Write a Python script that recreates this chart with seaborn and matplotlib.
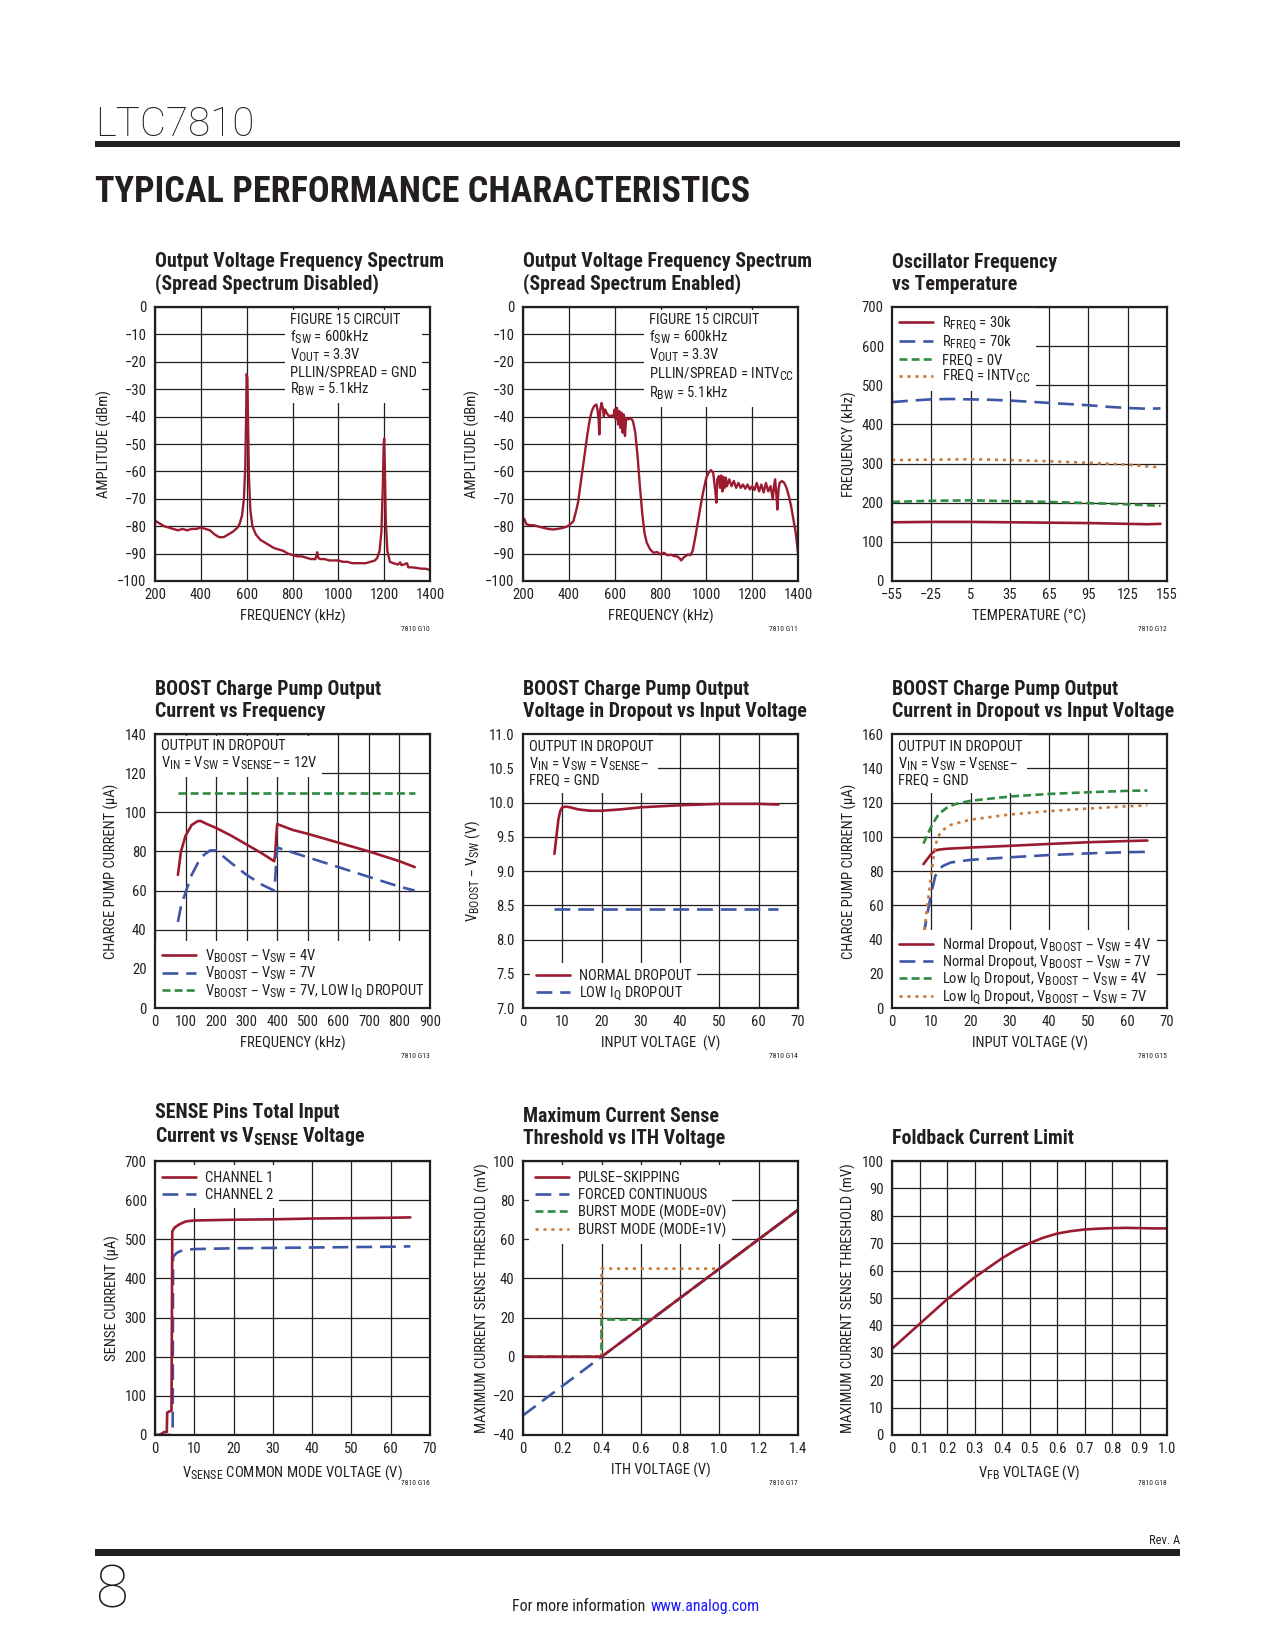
import matplotlib
matplotlib.use('Agg')
import matplotlib.pyplot as plt
import matplotlib._mathtext as mathtext_mod
import seaborn as sns
from matplotlib import font_manager
from matplotlib.patches import Rectangle

# ---------------- data ----------------
# G10: output spectrum, spread spectrum disabled
g10_freq = [200, 220, 240, 260, 280, 300, 320, 340, 360, 380,
            400, 420, 440, 460, 480, 500, 520, 540, 560, 570,
            580, 588, 594, 598, 600, 603, 606, 610, 616, 625,
            640, 660, 680, 700, 720, 740, 760, 780, 800, 820,
            840, 860, 880, 900, 908, 912, 920, 940, 960, 980,
            1000, 1020, 1040, 1060, 1080, 1100, 1120, 1140, 1160, 1170,
            1180, 1188, 1194, 1198, 1200, 1203, 1207, 1214, 1225, 1240,
            1260, 1270, 1275, 1285, 1300, 1305, 1320, 1340, 1360, 1380,
            1400]
g10_amp = [-78, -79, -80, -80.5, -81, -81.5, -81, -81.5, -81, -81,
           -80.5, -81, -81.5, -83, -84, -84, -83, -82, -80.5, -79,
           -76, -70, -58, -38, -24.5, -26, -42, -62, -74, -80,
           -83, -85, -86, -87, -88, -88.5, -89, -90, -90.5, -91,
           -91, -91.5, -92, -92, -89.5, -91.5, -92, -92, -92.5, -92.5,
           -92.5, -93, -93, -93.5, -93.5, -93.5, -93.5, -93, -92.5, -91.5,
           -89, -82, -66, -50, -48, -58, -78, -89, -93, -93.5,
           -94, -93.2, -94.2, -94, -93.5, -95, -95, -95.2, -95.5, -95.5,
           -96]

# G11: output spectrum, spread spectrum enabled
g11_freq = [200, 205, 215, 230, 250, 270, 290, 310, 330, 350,
            370, 390, 400, 410, 420, 430, 440, 450, 460, 470,
            480, 490, 500, 510, 520, 525, 530, 533, 537, 543,
            548, 553, 558, 565, 575, 585, 595, 600, 605, 610,
            615, 620, 625, 630, 635, 640, 645, 650, 660, 670,
            680, 690, 700, 710, 720, 730, 740, 755, 770, 785,
            800, 815, 830, 845, 860, 875, 885, 890, 900, 910,
            920, 930, 940, 950, 960, 970, 980, 990, 1000, 1010,
            1020, 1030, 1035, 1040, 1044, 1048, 1055, 1060, 1065, 1070,
            1075, 1080, 1085, 1090, 1100, 1110, 1120, 1130, 1140, 1150,
            1160, 1170, 1180, 1190, 1200, 1210, 1220, 1230, 1240, 1250,
            1260, 1270, 1280, 1285, 1290, 1295, 1300, 1305, 1310, 1315,
            1320, 1330, 1340, 1350, 1360, 1370, 1380, 1390, 1400]
g11_amp = [-77.5, -77.3, -79.3, -79.6, -79.7, -80.2, -80.6, -81, -81.2, -81,
           -80.7, -80.2, -79.7, -79, -78.1, -75, -71.4, -65.4, -59.3, -53.2,
           -47.1, -41.7, -38, -36.2, -35.6, -37.4, -41, -46.5, -37.4, -35,
           -36.8, -39.9, -37.4, -38.6, -39.9, -39.6, -39.9, -37.4, -41, -36.8,
           -42.9, -38, -44.1, -38.6, -45.9, -39.2, -47.1, -40.5, -41, -40.5,
           -41.7, -45.9, -54.4, -65.4, -75, -82.4, -86, -88.5, -89.7, -89.4,
           -90.3, -89.7, -90.6, -90.4, -90.9, -91.1, -91.9, -92.5, -91.5, -90.9,
           -90.3, -90.6, -89.1, -84.8, -80, -75, -70.2, -66, -62.3, -60.5,
           -59.5, -60.5, -64.2, -67.8, -71.4, -62.9, -61.7, -66, -61.5, -67.3,
           -62, -66, -62.3, -65.4, -62.9, -65.4, -63.5, -66, -64.2, -66,
           -64.8, -66.3, -64.8, -66.6, -65.4, -66.8, -64.2, -67.3, -64.8, -67.7,
           -64.2, -67.3, -65.4, -67.8, -70.2, -65.4, -62.9, -67.8, -73.9, -66.6,
           -64.2, -63.5, -64.2, -66, -69, -72.7, -77.5, -82.4, -89.7]

# G12: oscillator frequency vs temperature
g12_temp_a = [-55, -25, 5, 35, 65, 95, 125, 140, 150]
g12_r30k = [150, 151, 151, 150, 149, 148, 146, 145, 146]
g12_temp_b = [-55, -40, -25, -10, 5, 20, 35, 50, 65, 80, 95, 110, 125, 140, 150]
g12_r70k = [457, 461, 464, 465, 464, 463, 461, 458, 455, 452, 449, 445, 442, 440, 441]
g12_temp_c = [-55, -25, 5, 35, 65, 95, 125, 150]
g12_f0v = [202, 205, 206, 204, 202, 199, 196, 192]
g12_fintvcc = [309, 310, 311, 309, 306, 302, 297, 290]

# G13: BOOST charge pump current vs frequency
g13_f4 = [75, 85, 100, 120, 140, 150, 170, 200, 250, 300, 350, 390, 393, 397, 400, 450, 500, 600, 700, 800, 850]
g13_i4 = [68, 80, 88, 93.5, 95.5, 95.5, 94, 92, 88, 83.5, 79, 75, 78, 88, 94, 91, 89, 84.5, 80, 75, 72]
g13_f7 = [75, 85, 100, 120, 150, 180, 200, 250, 300, 350, 390, 393, 397, 400, 500, 600, 700, 800, 850]
g13_i7 = [44, 52, 59, 68, 77, 80.5, 80.5, 74, 68, 63, 60, 65, 75, 82, 77, 72, 67, 62, 60]
g13_flq = [75, 850]
g13_ilq = [110, 110]

# G14: BOOST voltage in dropout vs input voltage
g14_vin_n = [8, 8.5, 9, 9.5, 10, 11, 12, 14, 17, 20, 25, 30, 40, 50, 60, 65]
g14_vb_n = [9.25, 9.5, 9.75, 9.88, 9.93, 9.94, 9.93, 9.9, 9.88, 9.88, 9.9, 9.93, 9.96, 9.98, 9.98, 9.97]
g14_vin_l = [8, 65]
g14_vb_l = [8.45, 8.45]

# G15: BOOST current in dropout vs input voltage
g15_vin_a = [8, 9, 10, 11, 12, 14, 20, 30, 40, 50, 60, 65]
g15_norm4 = [84, 87, 90, 92, 92.5, 93, 93.7, 94.7, 95.8, 96.8, 97.5, 97.8]
g15_vin_b = [8, 9, 10, 11, 12, 13, 15, 20, 30, 40, 50, 60, 65]
g15_norm7 = [42, 55, 67, 77, 81, 83, 85, 86.5, 88, 89.3, 90.3, 91, 91.2]
g15_vin_c = [8, 9, 10, 11, 12, 14, 16, 20, 30, 40, 50, 60, 65]
g15_lowq4 = [96, 101, 106, 110, 113.5, 117, 119, 121, 123.5, 125, 126, 126.8, 127]
g15_vin_d = [8, 9, 10, 11, 12, 13, 15, 20, 30, 40, 50, 60, 65]
g15_lowq7 = [41, 60, 78, 95, 101, 104, 107, 110, 113, 115, 116.5, 117.8, 118.3]

# G16: SENSE pins input current vs common mode voltage
g16_v1 = [0, 1, 1.8, 2.2, 3.0, 3.1, 3.6, 4.2, 4.4, 5, 6, 7, 8, 10, 20, 30, 40, 50, 60, 65]
g16_ch1 = [0, 0, 4, 7, 8, 57, 60, 62, 520, 530, 537, 542, 546, 548, 550, 551, 553, 554, 555, 556]
g16_v2 = [0, 3.5, 4.3, 4.5, 4.6, 5.5, 6.5, 8, 10, 20, 30, 40, 50, 60, 65]
g16_ch2 = [0, 0, 2, 10, 455, 465, 470, 473, 475, 477, 478, 479, 480, 481, 482]

# G17: max current sense threshold vs ITH
g17_ith_ps = [0, 0.4, 1.4]
g17_ps = [0, 0, 75]
g17_ith_fc = [0, 0.4, 1.4]
g17_fc = [-30, 0, 75]
g17_ith_b0 = [0, 0.4, 0.4, 0.653, 1.4]
g17_b0 = [0, 0, 19, 19, 75]
g17_ith_b1 = [0, 0.4, 0.4, 1.0, 1.4]
g17_b1 = [0, 0, 45, 45, 75]

# G18: foldback current limit
g18_vfb = [0, 0.05, 0.1, 0.15, 0.2, 0.25, 0.3, 0.35, 0.4, 0.45, 0.5,
           0.55, 0.6, 0.65, 0.7, 0.75, 0.8, 0.85, 0.9, 0.95, 1.0]
g18_th = [31.5, 36, 40.5, 45, 49.5, 53.5, 57.5, 61, 64.5, 67.5, 70,
          72, 73.5, 74.4, 75, 75.3, 75.5, 75.6, 75.5, 75.4, 75.4]

RED = '#9b1b30'
BLUE = '#3d56a6'
GREEN = '#2f8a42'
ORANGE = '#c87a3a'
INK = '#231f20'

# ---------------- style ----------------
sns.set_style('white')
ttf = font_manager.fontManager.ttflist
fam_names = {f.name for f in ttf}
COND, STRETCH = None, 'normal'
for cand in ['Liberation Sans Narrow', 'Roboto Condensed', 'Noto Sans Condensed',
             'Open Sans Condensed', 'DejaVu Sans Condensed']:
    if cand in fam_names:
        COND = cand
        break
if COND is None:
    for cand in ['Noto Sans', 'Open Sans', 'DejaVu Sans', 'Roboto']:
        if any(f.name == cand and f.stretch == 'condensed' for f in ttf):
            COND, STRETCH = cand, 'condensed'
            break
if COND is None:
    COND = 'Roboto' if 'Roboto' in fam_names else 'DejaVu Sans'

plt.rcParams['font.family'] = [COND, 'DejaVu Sans']
plt.rcParams['font.stretch'] = STRETCH
plt.rcParams['mathtext.default'] = 'regular'
plt.rcParams['text.color'] = INK
plt.rcParams['axes.labelcolor'] = INK
plt.rcParams['xtick.color'] = INK
plt.rcParams['ytick.color'] = INK
# datasheet subscripts are only a little smaller than the body text
mathtext_mod.SHRINK_FACTOR = 0.82

W, H = 1275, 1650
AW, AH = 275, 274
fig = plt.figure(figsize=(W / 100, H / 100), dpi=100)

LONG = (0, (6, 3))
DASH = (0, (3, 1.6))
DOT = (0, (1.2, 1.8))


def make_ax(left, top):
    return fig.add_axes([left / W, 1 - (top + AH) / H, AW / W, AH / H])


def style_ax(ax, xlim, ylim, xticks, yticks, xlabel, ylabel, ylab_dx,
             xticklabels=None, yticklabels=None):
    ax.set_xlim(xlim)
    ax.set_ylim(ylim)
    ax.set_xticks(xticks)
    ax.set_yticks(yticks)
    if xticklabels is not None:
        ax.set_xticklabels(xticklabels)
    if yticklabels is not None:
        ax.set_yticklabels(yticklabels)
    ax.grid(True, color=INK, lw=0.9)
    ax.set_axisbelow(True)
    ax.tick_params(axis='x', length=0, labelsize=10.5, pad=5)
    ax.tick_params(axis='y', length=0, labelsize=10.5, pad=6)
    for s in ax.spines.values():
        s.set_visible(True)
        s.set_linewidth(1.6)
        s.set_color(INK)
        s.set_zorder(10)
    ax.set_xlabel(xlabel, fontsize=10.5)
    ax.set_ylabel(ylabel, fontsize=10.5)
    ax.yaxis.set_label_coords(ylab_dx / AW, 0.5)
    ax.xaxis.set_label_coords(0.5, -28 / AH)


def draw(ax, x, y, color, ls='-', label=None, lw=1.9):
    sns.lineplot(x=x, y=y, ax=ax, color=color, linestyle=ls, linewidth=lw,
                 label=label, sort=False, estimator=None, errorbar=None)


def title(ax, s):
    ax.text(0, 1 + 13 / AH, s, transform=ax.transAxes, ha='left', va='bottom',
            fontsize=14.3, fontweight='bold', linespacing=1.17)


def code(ax, s):
    ax.text(1, -48 / AH, s, transform=ax.transAxes, ha='right', va='center', fontsize=5.5)


def note(ax, xpx, ypx, s):
    ax.text(xpx / AW, 1 - ypx / AH, s, transform=ax.transAxes, ha='left', va='top',
            fontsize=10.5, linespacing=1.1, zorder=4,
            bbox=dict(facecolor='white', edgecolor='none', pad=3.5))


def leg(ax, loc, order, spacing=0.0, anchor=None):
    handles, labels = ax.get_legend_handles_labels()
    hmap = dict(zip(labels, handles))
    kw = {}
    if anchor is not None:
        kw['bbox_to_anchor'] = (anchor[0] / AW, anchor[1] / AH)
    lg = ax.legend([hmap[o] for o in order], order, loc=loc, frameon=True, fancybox=False,
                   framealpha=1, facecolor='white', edgecolor='none', fontsize=10.5,
                   handlelength=2.3, handletextpad=0.6, labelspacing=spacing,
                   borderpad=0.4, borderaxespad=0.1, **kw)
    lg.set_zorder(5)


cols = [155, 523, 892]
rows = [307, 734, 1161]

# ---------- G10 ----------
ax = make_ax(cols[0], rows[0])
draw(ax, g10_freq, g10_amp, RED, lw=1.7)
style_ax(ax, (200, 1400), (-100, 0), range(200, 1401, 200), range(-100, 1, 10),
         'FREQUENCY (kHz)', 'AMPLITUDE (dBm)', -43)
note(ax, 135, 6, 'FIGURE 15 CIRCUIT\n$f_{SW}$ = 600kHz\n$V_{OUT}$ = 3.3V\n'
                 'PLLIN/SPREAD = GND\n$R_{BW}$ = 5.1kHz')
title(ax, 'Output Voltage Frequency Spectrum\n(Spread Spectrum Disabled)')
code(ax, '7810 G10')

# ---------- G11 ----------
ax = make_ax(cols[1], rows[0])
draw(ax, g11_freq, g11_amp, RED, lw=1.7)
style_ax(ax, (200, 1400), (-100, 0), range(200, 1401, 200), range(-100, 1, 10),
         'FREQUENCY (kHz)', 'AMPLITUDE (dBm)', -43)
note(ax, 126, 6, 'FIGURE 15 CIRCUIT\n$f_{SW}$ = 600kHz\n$V_{OUT}$ = 3.3V\n'
                 'PLLIN/SPREAD = $INTV_{CC}$\n$R_{BW}$ = 5.1kHz')
title(ax, 'Output Voltage Frequency Spectrum\n(Spread Spectrum Enabled)')
code(ax, '7810 G11')

# ---------- G12 ----------
ax = make_ax(cols[2], rows[0])
lab12 = ['$R_{FREQ}$ = 30k', '$R_{FREQ}$ = 70k', 'FREQ = 0V', 'FREQ = $INTV_{CC}$']
draw(ax, g12_temp_a, g12_r30k, RED, label=lab12[0])
draw(ax, g12_temp_b, g12_r70k, BLUE, LONG, label=lab12[1])
draw(ax, g12_temp_c, g12_f0v, GREEN, DASH, label=lab12[2])
draw(ax, g12_temp_c, g12_fintvcc, ORANGE, DOT, label=lab12[3])
style_ax(ax, (-55, 155), (0, 700), range(-55, 156, 30), range(0, 701, 100),
         'TEMPERATURE (°C)', 'FREQUENCY (kHz)', -35)
leg(ax, 'upper left', lab12, spacing=0.05)
title(ax, 'Oscillator Frequency\nvs Temperature')
code(ax, '7810 G12')

# ---------- G13 ----------
ax = make_ax(cols[0], rows[1])
lab13 = ['$V_{BOOST}$ – $V_{SW}$ = 4V', '$V_{BOOST}$ – $V_{SW}$ = 7V',
         '$V_{BOOST}$ – $V_{SW}$ = 7V, LOW $I_Q$ DROPOUT']
draw(ax, g13_f4, g13_i4, RED, label=lab13[0])
draw(ax, g13_f7, g13_i7, BLUE, LONG, label=lab13[1])
draw(ax, g13_flq, g13_ilq, GREEN, DASH, label=lab13[2])
style_ax(ax, (0, 900), (0, 140), range(0, 901, 100), range(0, 141, 20),
         'FREQUENCY (kHz)', 'CHARGE PUMP CURRENT (µA)', -36)
leg(ax, 'lower left', lab13)
note(ax, 6, 5, 'OUTPUT IN DROPOUT\n$V_{IN}$ = $V_{SW}$ = $V_{SENSE}$– = 12V')
title(ax, 'BOOST Charge Pump Output\nCurrent vs Frequency')
code(ax, '7810 G13')

# ---------- G14 ----------
ax = make_ax(cols[1], rows[1])
lab14 = ['NORMAL DROPOUT', 'LOW $I_Q$ DROPOUT']
draw(ax, g14_vin_n, g14_vb_n, RED, label=lab14[0])
draw(ax, g14_vin_l, g14_vb_l, BLUE, LONG, label=lab14[1])
style_ax(ax, (0, 70), (7, 11), range(0, 71, 10), [7 + 0.5 * i for i in range(9)],
         'INPUT VOLTAGE  (V)', '$V_{BOOST}$ – $V_{SW}$ (V)', -41,
         yticklabels=['7.0', '7.5', '8.0', '8.5', '9.0', '9.5', '10.0', '10.5', '11.0'])
leg(ax, 'lower left', lab14, spacing=0.1, anchor=(6, -2))
note(ax, 6, 6, 'OUTPUT IN DROPOUT\n$V_{IN}$ = $V_{SW}$ = $V_{SENSE}$–\nFREQ = GND')
title(ax, 'BOOST Charge Pump Output\nVoltage in Dropout vs Input Voltage')
code(ax, '7810 G14')

# ---------- G15 ----------
ax = make_ax(cols[2], rows[1])
lab15 = ['Normal Dropout, $V_{BOOST}$ – $V_{SW}$ = 4V', 'Normal Dropout, $V_{BOOST}$ – $V_{SW}$ = 7V',
         'Low $I_Q$ Dropout, $V_{BOOST}$ – $V_{SW}$ = 4V', 'Low $I_Q$ Dropout, $V_{BOOST}$ – $V_{SW}$ = 7V']
draw(ax, g15_vin_a, g15_norm4, RED, label=lab15[0])
draw(ax, g15_vin_b, g15_norm7, BLUE, LONG, label=lab15[1])
draw(ax, g15_vin_c, g15_lowq4, GREEN, DASH, label=lab15[2])
draw(ax, g15_vin_d, g15_lowq7, ORANGE, DOT, label=lab15[3])
style_ax(ax, (0, 70), (0, 160), range(0, 71, 10), range(0, 161, 20),
         'INPUT VOLTAGE (V)', 'CHARGE PUMP CURRENT (µA)', -35)
leg(ax, 'lower left', lab15, spacing=-0.05, anchor=(0, -6))
note(ax, 6, 6, 'OUTPUT IN DROPOUT\n$V_{IN}$ = $V_{SW}$ = $V_{SENSE}$–\nFREQ = GND')
title(ax, 'BOOST Charge Pump Output\nCurrent in Dropout vs Input Voltage')
code(ax, '7810 G15')

# ---------- G16 ----------
ax = make_ax(cols[0], rows[2])
lab16 = ['CHANNEL 1', 'CHANNEL 2']
draw(ax, g16_v2, g16_ch2, BLUE, LONG, label=lab16[1])
draw(ax, g16_v1, g16_ch1, RED, label=lab16[0])
style_ax(ax, (0, 70), (0, 700), range(0, 71, 10), range(0, 701, 100),
         '$V_{SENSE}$ COMMON MODE VOLTAGE (V)', 'SENSE CURRENT (µA)', -35)
leg(ax, 'upper left', lab16, spacing=0.18, anchor=(0, 271))
title(ax, 'SENSE Pins Total Input\nCurrent vs $V_{SENSE}$ Voltage')
code(ax, '7810 G16')

# ---------- G17 ----------
ax = make_ax(cols[1], rows[2])
lab17 = ['PULSE–SKIPPING', 'FORCED CONTINUOUS', 'BURST MODE (MODE=0V)', 'BURST MODE (MODE=1V)']
draw(ax, g17_ith_b1, g17_b1, ORANGE, DOT, label=lab17[3])
draw(ax, g17_ith_b0, g17_b0, GREEN, DASH, label=lab17[2])
draw(ax, g17_ith_fc, g17_fc, BLUE, LONG, label=lab17[1])
draw(ax, g17_ith_ps, g17_ps, RED, label=lab17[0])
style_ax(ax, (0, 1.4), (-40, 100), [0.2 * i for i in range(8)], range(-40, 101, 20),
         'ITH VOLTAGE (V)', 'MAXIMUM CURRENT SENSE THRESHOLD (mV)', -33,
         xticklabels=['0', '0.2', '0.4', '0.6', '0.8', '1.0', '1.2', '1.4'])
leg(ax, 'upper left', lab17, spacing=0.18, anchor=(5, 271))
title(ax, 'Maximum Current Sense\nThreshold vs ITH Voltage')
code(ax, '7810 G17')

# ---------- G18 ----------
ax = make_ax(cols[2], rows[2])
draw(ax, g18_vfb, g18_th, RED)
style_ax(ax, (0, 1.0), (0, 100), [0.1 * i for i in range(11)], range(0, 101, 10),
         '$V_{FB}$ VOLTAGE (V)', 'MAXIMUM CURRENT SENSE THRESHOLD (mV)', -36,
         xticklabels=['0', '0.1', '0.2', '0.3', '0.4', '0.5', '0.6', '0.7', '0.8', '0.9', '1.0'])
title(ax, 'Foldback Current Limit')
code(ax, '7810 G18')

# ---------------- page furniture ----------------
fig.text(95 / W, 1 - 136 / H, 'LTC7810', fontsize=29, family=['Roboto', 'DejaVu Sans'],
         fontweight='light', stretch='normal', va='baseline', ha='left')
fig.add_artist(Rectangle((95 / W, 1 - 147 / H), 1085 / W, 6.5 / H,
                         transform=fig.transFigure, color=INK, lw=0))
fig.text(95 / W, 1 - 202 / H, 'TYPICAL PERFORMANCE CHARACTERISTICS', fontsize=26,
         fontweight='bold', va='baseline', ha='left')
fig.text(1180 / W, 1 - 1541 / H, 'Rev. A', fontsize=9, ha='right', va='center')
fig.add_artist(Rectangle((95 / W, 1 - 1556 / H), 1085 / W, 7 / H,
                         transform=fig.transFigure, color=INK, lw=0))
fig.text(95 / W, 1 - 1607 / H, '8', fontsize=43, family=['Roboto', 'DejaVu Sans'],
         fontweight='light', stretch='normal', va='baseline', ha='left')
fig.text(649 / W, 1 - 1611 / H, 'For more information ', fontsize=11.5, ha='right', va='baseline')
fig.text(651 / W, 1 - 1611 / H, 'www.analog.com', fontsize=11.5, ha='left', va='baseline',
         color='#1a1aff')

fig.savefig('out.png', dpi=100)
